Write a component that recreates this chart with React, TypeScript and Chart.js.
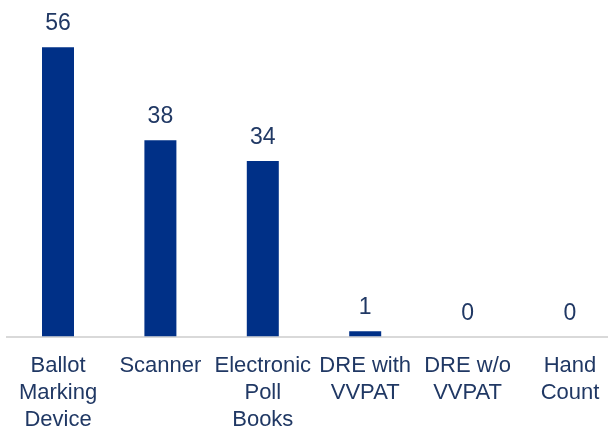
import React, { useEffect, useRef } from "react";
import { Chart, registerables } from "chart.js";

Chart.register(...registerables);

const categories: string[][] = [
  ["Ballot", "Marking", "Device"],
  ["Scanner"],
  ["Electronic", "Poll", "Books"],
  ["DRE with", "VVPAT"],
  ["DRE w/o", "VVPAT"],
  ["Hand", "Count"],
];
const values: number[] = [56, 38, 34, 1, 0, 0];

const BAR_COLOR = "#003087";
const TEXT_COLOR = "#203864";
const AXIS_COLOR = "#d9d9d9";
const FONT = "'Liberation Sans', Arial, sans-serif";

const valueLabels = {
  id: "valueLabels",
  afterDatasetsDraw(chart: any) {
    const ctx = chart.ctx;
    const meta = chart.getDatasetMeta(0);
    ctx.save();
    ctx.font = `23px ${FONT}`;
    ctx.fillStyle = TEXT_COLOR;
    ctx.textAlign = "center";
    ctx.textBaseline = "alphabetic";
    meta.data.forEach((el: any, i: number) => {
      ctx.fillText(String(values[i]), el.x, el.y - 17);
    });
    ctx.restore();
  },
};

export default function App() {
  const ref = useRef<HTMLCanvasElement | null>(null);

  useEffect(() => {
    if (!ref.current) return;
    const chart = new Chart(ref.current, {
      type: "bar",
      data: {
        labels: categories,
        datasets: [
          {
            data: values,
            backgroundColor: BAR_COLOR,
            borderWidth: 0,
            barPercentage: 0.3125,
            categoryPercentage: 1,
          },
        ],
      },
      options: {
        animation: false,
        responsive: false,
        devicePixelRatio: 1,
        layout: { padding: { left: 6.8, right: 0.8, top: 26.6, bottom: 0 } },
        plugins: {
          legend: { display: false },
          tooltip: { enabled: false },
        },
        scales: {
          x: {
            grid: { display: false, drawTicks: false },
            border: { display: true, color: AXIS_COLOR, width: 2 },
            ticks: {
              color: TEXT_COLOR,
              font: { family: FONT, size: 22, lineHeight: 1.227 },
              padding: 16,
              maxRotation: 0,
              minRotation: 0,
              autoSkip: false,
            },
            afterFit: (scale: any) => {
              scale.height = 90.5;
            },
          },
          y: {
            display: false,
            min: 0,
            max: 60,
          },
        },
      },
      plugins: [valueLabels],
    });
    return () => chart.destroy();
  }, []);

  return (
    <div
      style={{
        position: "fixed",
        left: 0,
        top: 0,
        width: 608,
        height: 427,
        overflow: "hidden",
        background: "#ffffff",
      }}
    >
      <canvas
        ref={ref}
        width={622}
        height={427}
        style={{ width: 622, height: 427, display: "block" }}
      />
    </div>
  );
}
